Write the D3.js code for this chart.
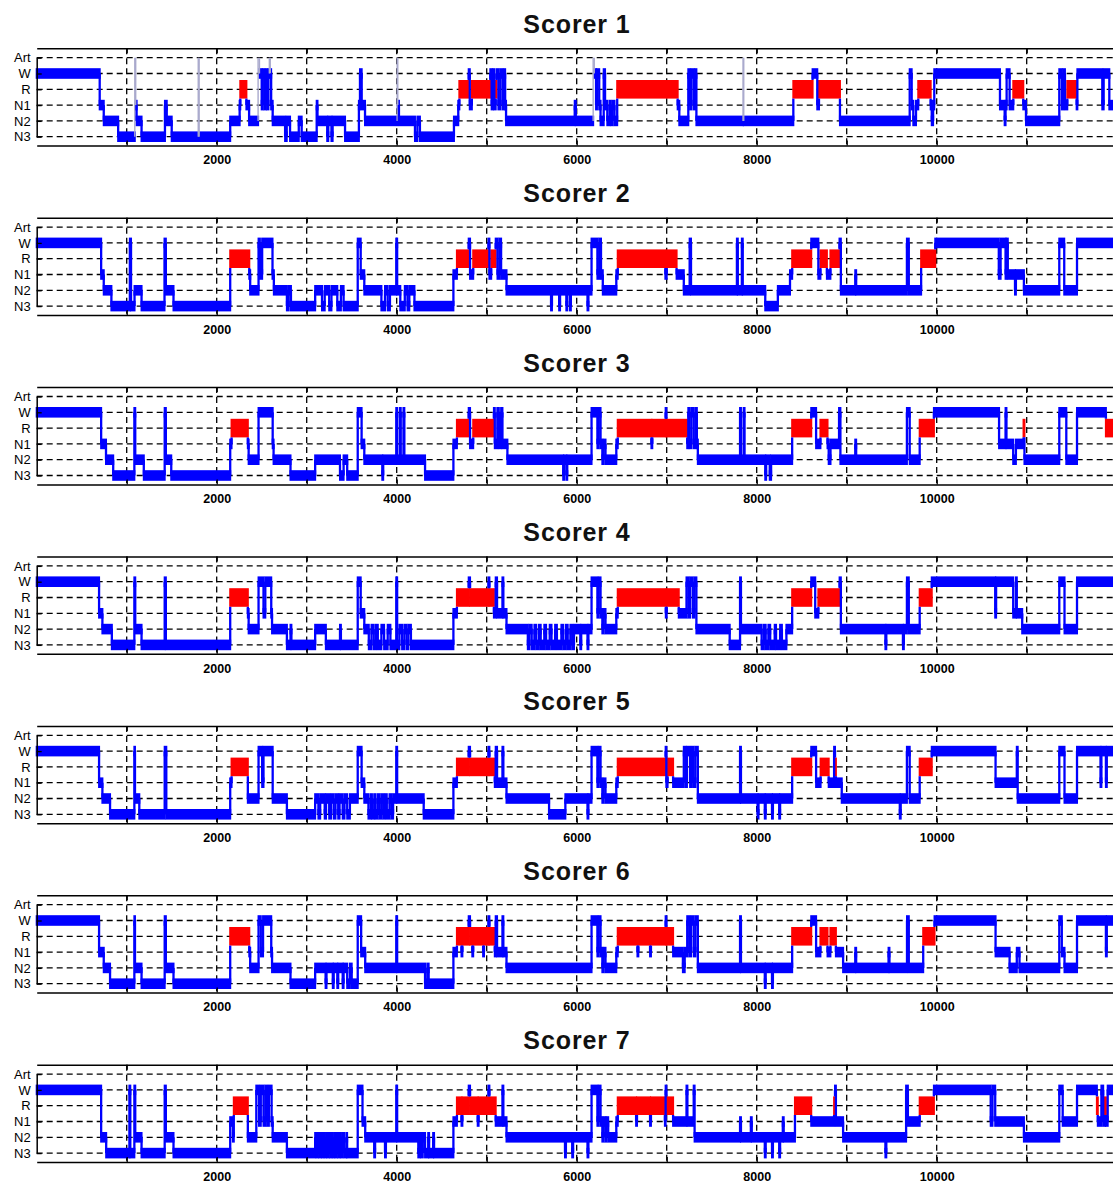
<!DOCTYPE html>
<html><head><meta charset="utf-8">
<script src="https://cdn.jsdelivr.net/npm/d3@7"></script>
<style>body{margin:0;background:#fff}svg{display:block}</style>
</head><body>
<svg id="c" width="1113" height="1183"></svg>
<script>
// ---- data ----
const stages = ["N3", "N2", "N1", "R", "W", "Art"];            // bottom -> top
const xTicks = [1000, 2000, 3000, 4000, 5000, 6000, 7000, 8000, 9000, 10000, 11000];
const xLabelled = [2000, 4000, 6000, 8000, 10000];
const xMax = 12000;
const titles = ["Scorer 1", "Scorer 2", "Scorer 3", "Scorer 4", "Scorer 5", "Scorer 6", "Scorer 7"];

// each entry: [start, stage]; a stage lasts until the next entry's start
const scorer1 = [[0,"W"],[700,"N1"],[745,"N2"],[905,"N3"],[1090,"Art"],[1100,"N1"],[1110,"N2"],[1165,"N3"],[1425,"N1"],[1445,"N2"],[1500,"N3"],[1795,"Art"],[1805,"N3"],[2150,"N2"],[2255,"N1"],[2262,"R"],[2330,"N1"],[2360,"N2"],[2460,"Art"],[2475,"W"],[2500,"N1"],[2512,"W"],[2530,"N1"],[2545,"W"],[2560,"N1"],[2575,"W"],[2585,"Art"],[2595,"W"],[2605,"N1"],[2622,"N2"],[2760,"N3"],[2778,"N2"],[2815,"N3"],[2912,"N2"],[2944,"N3"],[3111,"N1"],[3120,"N2"],[3228,"N3"],[3240,"N2"],[3275,"N3"],[3288,"N2"],[3426,"N3"],[3580,"N1"],[3592,"W"],[3611,"N1"],[3648,"N2"],[4005,"Art"],[4012,"N1"],[4025,"N2"],[4203,"N3"],[4230,"N2"],[4258,"N3"],[4636,"N2"],[4684,"N1"],[4696,"R"],[4800,"W"],[4812,"N1"],[4835,"R"],[5040,"W"],[5055,"N1"],[5070,"W"],[5085,"N1"],[5100,"R"],[5110,"W"],[5130,"N1"],[5150,"W"],[5175,"N1"],[5190,"W"],[5205,"N1"],[5215,"N2"],[5978,"N1"],[5990,"N2"],[6183,"Art"],[6195,"W"],[6215,"N1"],[6225,"W"],[6250,"N1"],[6265,"N2"],[6300,"W"],[6315,"N1"],[6340,"N2"],[6365,"N1"],[6380,"N2"],[6400,"N1"],[6420,"N2"],[6450,"R"],[7122,"N1"],[7140,"N2"],[7240,"W"],[7260,"N1"],[7275,"W"],[7300,"N1"],[7315,"W"],[7330,"N2"],[7848,"Art"],[7856,"N2"],[8407,"R"],[8621,"W"],[8673,"N1"],[8692,"R"],[8925,"N2"],[9700,"W"],[9722,"N1"],[9740,"N2"],[9770,"N1"],[9795,"R"],[9933,"N1"],[9945,"N2"],[9960,"N1"],[9973,"W"],[10703,"N1"],[10755,"N2"],[10765,"N1"],[10777,"W"],[10810,"N1"],[10851,"R"],[10962,"N1"],[10992,"N2"],[11362,"W"],[11390,"N1"],[11405,"W"],[11425,"N1"],[11451,"R"],[11555,"N1"],[11563,"W"],[11840,"N1"],[11855,"W"],[11918,"N1"]];

const scorer2 = [[0,"W"],[716,"N1"],[745,"N2"],[830,"N3"],[1035,"W"],[1048,"N3"],[1087,"N2"],[1165,"N3"],[1420,"W"],[1435,"N2"],[1520,"N3"],[2150,"R"],[2362,"N1"],[2372,"N2"],[2465,"W"],[2480,"N1"],[2505,"W"],[2620,"N1"],[2635,"N2"],[2780,"N3"],[2800,"N2"],[2825,"N3"],[3094,"N2"],[3170,"N3"],[3200,"N2"],[3250,"N3"],[3275,"N2"],[3340,"N3"],[3380,"N2"],[3410,"N3"],[3567,"W"],[3600,"N1"],[3640,"N2"],[3830,"N3"],[3870,"N2"],[3900,"N3"],[3925,"N2"],[3995,"W"],[4005,"N2"],[4040,"N3"],[4090,"N2"],[4120,"N3"],[4140,"N2"],[4197,"N3"],[4630,"N1"],[4669,"R"],[4800,"W"],[4815,"N1"],[4850,"R"],[5020,"W"],[5030,"N1"],[5050,"R"],[5100,"W"],[5120,"N1"],[5140,"W"],[5160,"N1"],[5220,"N2"],[5715,"N3"],[5725,"N2"],[5805,"N3"],[5815,"N2"],[5885,"N3"],[5895,"N2"],[5925,"N3"],[5935,"N2"],[6120,"N3"],[6130,"N2"],[6165,"W"],[6230,"N1"],[6250,"W"],[6270,"N1"],[6290,"N2"],[6440,"N1"],[6456,"R"],[6985,"N1"],[7000,"R"],[7110,"N1"],[7190,"N2"],[7255,"W"],[7270,"N2"],[7780,"W"],[7790,"N2"],[7835,"W"],[7845,"N2"],[8095,"N3"],[8235,"N2"],[8370,"N1"],[8394,"R"],[8606,"W"],[8685,"N1"],[8708,"R"],[8780,"N1"],[8819,"R"],[8920,"W"],[8935,"N2"],[9095,"N1"],[9105,"N2"],[9669,"W"],[9690,"N2"],[9827,"R"],[9984,"W"],[10690,"N1"],[10710,"W"],[10765,"N1"],[10775,"W"],[10790,"N1"],[10870,"N2"],[10880,"N1"],[10969,"N2"],[11362,"W"],[11417,"N2"],[11559,"W"]];

const scorer3 = [[0,"W"],[716,"N1"],[770,"N2"],[850,"N3"],[1085,"W"],[1095,"N2"],[1190,"N3"],[1422,"W"],[1435,"N2"],[1495,"N3"],[2150,"N1"],[2165,"R"],[2346,"N1"],[2355,"N2"],[2465,"W"],[2622,"N1"],[2632,"N2"],[2820,"N3"],[3094,"N2"],[3370,"N3"],[3410,"N2"],[3450,"N3"],[3567,"W"],[3610,"N1"],[3640,"N2"],[3840,"N3"],[3850,"N2"],[3995,"W"],[4005,"N2"],[4035,"W"],[4045,"N2"],[4075,"W"],[4085,"N2"],[4315,"N3"],[4630,"N1"],[4669,"R"],[4800,"W"],[4815,"N1"],[4850,"R"],[5080,"W"],[5090,"N1"],[5118,"W"],[5135,"N1"],[5160,"W"],[5175,"N1"],[5230,"N2"],[5850,"N3"],[5860,"N2"],[5885,"N3"],[5895,"N2"],[6165,"W"],[6230,"N1"],[6245,"W"],[6265,"N1"],[6285,"N2"],[6300,"N1"],[6320,"N2"],[6440,"N1"],[6456,"R"],[6830,"N1"],[6840,"R"],[6988,"W"],[6996,"R"],[7228,"N1"],[7240,"W"],[7255,"N1"],[7275,"W"],[7300,"N1"],[7320,"W"],[7335,"N1"],[7346,"N2"],[7815,"W"],[7825,"N2"],[7855,"W"],[7865,"N2"],[8095,"N3"],[8105,"N2"],[8145,"N3"],[8160,"N2"],[8394,"R"],[8606,"W"],[8660,"N1"],[8708,"R"],[8787,"N1"],[8800,"N2"],[8820,"N1"],[8915,"W"],[8930,"N2"],[9095,"N1"],[9105,"N2"],[9669,"W"],[9700,"N2"],[9811,"R"],[9969,"W"],[10693,"N1"],[10765,"W"],[10775,"N1"],[10850,"N2"],[10880,"N1"],[10965,"R"],[10975,"N2"],[11362,"W"],[11440,"N2"],[11559,"W"],[11880,"R"]];

const scorer4 = [[0,"W"],[693,"N1"],[730,"N2"],[835,"N3"],[1085,"W"],[1095,"N2"],[1165,"N3"],[1422,"W"],[1435,"N3"],[2150,"R"],[2346,"N1"],[2355,"N2"],[2465,"W"],[2520,"N1"],[2540,"W"],[2606,"N1"],[2615,"N2"],[2780,"N3"],[2820,"N2"],[2830,"N3"],[3094,"N2"],[3213,"N3"],[3370,"N2"],[3380,"N3"],[3567,"W"],[3600,"N1"],[3640,"N2"],[3690,"N3"],[3720,"N2"],[3745,"N3"],[3770,"N2"],[3790,"N3"],[3830,"N2"],[3860,"N3"],[3900,"N2"],[3930,"N3"],[3995,"W"],[4005,"N3"],[4030,"N2"],[4060,"N3"],[4085,"N2"],[4110,"N3"],[4130,"N2"],[4158,"N3"],[4630,"N1"],[4669,"R"],[4800,"W"],[4815,"R"],[5020,"W"],[5030,"R"],[5080,"N1"],[5100,"W"],[5115,"N1"],[5175,"W"],[5185,"N1"],[5220,"N2"],[5457,"N3"],[5475,"N2"],[5500,"N3"],[5530,"N2"],[5550,"N3"],[5580,"N2"],[5600,"N3"],[5640,"N2"],[5660,"N3"],[5700,"N2"],[5720,"N3"],[5760,"N2"],[5780,"N3"],[5830,"N2"],[5850,"N3"],[5880,"N2"],[5900,"N3"],[5930,"N2"],[5950,"N3"],[5970,"N2"],[6040,"N3"],[6050,"N2"],[6120,"N3"],[6130,"N2"],[6165,"W"],[6230,"N1"],[6245,"W"],[6265,"N1"],[6285,"N2"],[6300,"N1"],[6320,"N2"],[6440,"N1"],[6456,"R"],[6990,"N1"],[7000,"R"],[7134,"N1"],[7220,"W"],[7240,"N1"],[7260,"W"],[7290,"N1"],[7310,"W"],[7330,"N2"],[7700,"N3"],[7815,"W"],[7825,"N2"],[8055,"N3"],[8080,"N2"],[8100,"N3"],[8130,"N2"],[8150,"N3"],[8200,"N2"],[8215,"N3"],[8260,"N2"],[8280,"N3"],[8330,"N2"],[8394,"R"],[8606,"W"],[8650,"N1"],[8685,"R"],[8921,"W"],[8935,"N2"],[9430,"N3"],[9440,"N2"],[9625,"N3"],[9635,"N2"],[9669,"W"],[9690,"N2"],[9811,"R"],[9945,"W"],[10650,"N1"],[10660,"W"],[10850,"N1"],[10880,"W"],[10890,"N1"],[10950,"N2"],[11362,"W"],[11420,"N2"],[11559,"W"]];

const scorer5 = [[0,"W"],[693,"N1"],[730,"N2"],[815,"N3"],[1085,"W"],[1092,"N2"],[1140,"N3"],[1422,"W"],[1440,"N3"],[2150,"N1"],[2165,"R"],[2346,"N2"],[2465,"W"],[2505,"N1"],[2520,"W"],[2622,"N2"],[2780,"N3"],[3094,"N2"],[3130,"N3"],[3150,"N2"],[3200,"N3"],[3215,"N2"],[3250,"N3"],[3270,"N2"],[3300,"N3"],[3320,"N2"],[3350,"N3"],[3365,"N2"],[3400,"N3"],[3420,"N2"],[3450,"N3"],[3480,"N2"],[3567,"W"],[3610,"N1"],[3640,"N2"],[3686,"N3"],[3710,"N2"],[3725,"N3"],[3750,"N2"],[3765,"N3"],[3790,"N2"],[3810,"N3"],[3830,"N2"],[3850,"N3"],[3870,"N2"],[3890,"N3"],[3920,"N2"],[3940,"N3"],[3960,"N2"],[3995,"W"],[4005,"N2"],[4300,"N3"],[4630,"N1"],[4669,"R"],[4800,"W"],[4815,"R"],[5020,"W"],[5030,"R"],[5090,"N1"],[5100,"W"],[5115,"N1"],[5175,"W"],[5185,"N1"],[5220,"N2"],[5693,"N3"],[5874,"N2"],[6120,"N3"],[6130,"N2"],[6165,"W"],[6230,"N1"],[6245,"W"],[6265,"N1"],[6285,"N2"],[6300,"N1"],[6320,"N2"],[6440,"N1"],[6456,"R"],[6988,"W"],[6996,"N1"],[7010,"R"],[7071,"N1"],[7190,"W"],[7210,"N1"],[7225,"W"],[7260,"N1"],[7280,"W"],[7300,"N1"],[7320,"W"],[7346,"N2"],[7815,"W"],[7825,"N2"],[8010,"N3"],[8020,"N2"],[8090,"N3"],[8100,"N2"],[8170,"N3"],[8180,"N2"],[8250,"N3"],[8260,"N2"],[8394,"R"],[8606,"W"],[8660,"N1"],[8710,"R"],[8800,"N1"],[8860,"W"],[8870,"R"],[8880,"N1"],[8945,"N2"],[9590,"N3"],[9600,"N2"],[9669,"W"],[9700,"N2"],[9811,"R"],[9945,"W"],[10654,"N1"],[10890,"W"],[10900,"N2"],[11362,"W"],[11420,"N2"],[11559,"W"],[11820,"N1"],[11830,"W"],[11880,"N1"],[11890,"W"]];

const scorer6 = [[0,"W"],[693,"N1"],[745,"N2"],[815,"N3"],[1085,"W"],[1092,"N2"],[1165,"N3"],[1422,"W"],[1435,"N2"],[1520,"N3"],[2150,"R"],[2362,"N1"],[2372,"N2"],[2465,"W"],[2490,"N1"],[2515,"W"],[2606,"N1"],[2615,"N2"],[2820,"N3"],[3094,"N2"],[3210,"N3"],[3220,"N2"],[3290,"N3"],[3300,"N2"],[3340,"N3"],[3350,"N2"],[3400,"N3"],[3410,"N2"],[3450,"N3"],[3480,"N2"],[3500,"N3"],[3567,"W"],[3605,"N1"],[3650,"N2"],[3995,"W"],[4005,"N2"],[4315,"N3"],[4340,"N2"],[4355,"N3"],[4630,"N1"],[4669,"R"],[4720,"N1"],[4730,"R"],[4800,"W"],[4815,"R"],[4840,"N1"],[4850,"R"],[4960,"N1"],[4970,"R"],[5020,"W"],[5030,"R"],[5090,"N1"],[5100,"W"],[5115,"N1"],[5175,"W"],[5185,"N1"],[5220,"N2"],[6165,"W"],[6230,"N1"],[6245,"W"],[6265,"N1"],[6285,"N2"],[6300,"N1"],[6320,"N2"],[6440,"N1"],[6456,"R"],[6675,"N1"],[6685,"R"],[6815,"N1"],[6825,"R"],[6988,"W"],[6996,"R"],[7071,"N1"],[7180,"N2"],[7200,"N1"],[7228,"W"],[7250,"N1"],[7270,"W"],[7300,"N1"],[7320,"W"],[7346,"N2"],[7815,"W"],[7825,"N2"],[8090,"N3"],[8100,"N2"],[8170,"N3"],[8180,"N2"],[8394,"R"],[8606,"W"],[8660,"N1"],[8708,"R"],[8787,"N1"],[8819,"R"],[8880,"N1"],[8960,"N2"],[9095,"N1"],[9105,"N2"],[9465,"N1"],[9475,"N2"],[9670,"W"],[9690,"N2"],[9850,"R"],[9976,"W"],[10654,"N1"],[10810,"N2"],[10890,"N1"],[10920,"N2"],[11362,"W"],[11390,"N1"],[11420,"N2"],[11559,"W"],[11880,"N1"],[11890,"W"]];

const scorer7 = [[0,"W"],[716,"N2"],[772,"N3"],[1030,"W"],[1040,"N3"],[1085,"W"],[1095,"N2"],[1165,"N3"],[1422,"W"],[1435,"N2"],[1520,"N3"],[2150,"N1"],[2180,"N2"],[2190,"R"],[2346,"N2"],[2440,"W"],[2470,"N1"],[2490,"W"],[2520,"N1"],[2540,"W"],[2560,"N1"],[2580,"W"],[2610,"N1"],[2622,"N2"],[2780,"N3"],[3094,"N2"],[3110,"N3"],[3125,"N2"],[3140,"N3"],[3155,"N2"],[3170,"N3"],[3185,"N2"],[3200,"N3"],[3215,"N2"],[3230,"N3"],[3245,"N2"],[3260,"N3"],[3275,"N2"],[3290,"N3"],[3305,"N2"],[3320,"N3"],[3335,"N2"],[3350,"N3"],[3365,"N2"],[3380,"N3"],[3395,"N2"],[3415,"N3"],[3440,"N2"],[3449,"N3"],[3567,"W"],[3620,"N1"],[3650,"N2"],[3750,"N3"],[3760,"N2"],[3870,"N3"],[3880,"N2"],[3995,"W"],[4005,"N2"],[4240,"N3"],[4255,"N2"],[4270,"N3"],[4290,"N2"],[4315,"N3"],[4350,"N2"],[4360,"N3"],[4405,"N2"],[4415,"N3"],[4630,"N1"],[4669,"R"],[4720,"N1"],[4730,"R"],[4800,"W"],[4815,"R"],[4900,"N1"],[4910,"R"],[5020,"W"],[5030,"R"],[5100,"N1"],[5175,"W"],[5185,"N1"],[5220,"N2"],[5870,"N3"],[5880,"N2"],[5950,"N3"],[5960,"N2"],[6120,"N3"],[6130,"N2"],[6165,"W"],[6230,"N1"],[6245,"W"],[6265,"N1"],[6285,"N2"],[6300,"N1"],[6320,"N2"],[6330,"N1"],[6350,"N2"],[6440,"N1"],[6456,"R"],[6660,"N1"],[6670,"R"],[6815,"N1"],[6825,"R"],[6980,"N1"],[6988,"W"],[6996,"R"],[7071,"N1"],[7220,"W"],[7230,"N1"],[7300,"W"],[7310,"N2"],[7815,"N1"],[7825,"N2"],[7935,"N1"],[7945,"N2"],[8090,"N3"],[8100,"N2"],[8170,"N3"],[8180,"N2"],[8250,"N3"],[8260,"N2"],[8290,"N1"],[8300,"N2"],[8425,"R"],[8606,"N1"],[8860,"R"],[8870,"W"],[8880,"N1"],[8960,"N2"],[9430,"N3"],[9440,"N2"],[9660,"W"],[9680,"N1"],[9811,"R"],[9969,"W"],[10600,"N1"],[10620,"W"],[10650,"N1"],[10969,"N2"],[11362,"W"],[11400,"N1"],[11559,"W"],[11780,"R"],[11790,"N1"],[11830,"W"],[11850,"N1"],[11870,"R"],[11880,"N1"],[11900,"W"]];

const scorers = [scorer1, scorer2, scorer3, scorer4, scorer5, scorer6, scorer7];

// ---- drawing ----
const svg = d3.select("#c");
svg.append("rect").attr("width", 1113).attr("height", 1183).attr("fill", "#fff");
const FONT = "'Liberation Sans', Arial, Helvetica, sans-serif";
const panelStep = 169.4, axTop0 = 48.3, axH = 97.3;
const x = d3.scaleLinear().domain([0, xMax]).range([36.7, 1116.7]);
const BLUE = "#0000ff", RED = "#ff0000", ART = "#a9a9cc";

scorers.forEach((data, i) => {
  const top = axTop0 + i * panelStep, bottom = top + axH;
  const y = d3.scaleLinear().domain([0, 5]).range([top + 88.4, top + 9.4]);
  const g = svg.append("g");

  g.append("text").attr("x", 577).attr("y", top - 15.5)
    .attr("text-anchor", "middle").attr("font-family", FONT)
    .attr("font-weight", "bold").attr("font-size", 25).attr("letter-spacing", 0.9)
    .attr("fill", "#111").text(titles[i]);

  // grid
  g.append("g").selectAll("line").data(d3.range(stages.length)).join("line")
    .attr("x1", x(0)).attr("x2", x(xMax)).attr("y1", d => y(d)).attr("y2", d => y(d))
    .attr("stroke", "#000").attr("stroke-width", 1.3).attr("stroke-dasharray", "6,4");
  g.append("g").selectAll("line").data(xTicks).join("line")
    .attr("x1", d => x(d)).attr("x2", d => x(d)).attr("y1", top).attr("y2", bottom)
    .attr("stroke", "#000").attr("stroke-width", 1.3).attr("stroke-dasharray", "6,4");

  // segments
  const segs = data.map((d, j) => ({
    x0: d[0], x1: j < data.length - 1 ? data[j + 1][0] : xMax,
    name: d[1], s: stages.indexOf(d[1])
  }));
  const tr = g.append("g");
  tr.selectAll(".rem").data(segs.filter(s => s.name === "R")).join("rect")
    .attr("x", s => x(s.x0) - 1).attr("width", s => Math.max(0, x(s.x1) - x(s.x0)) + 2)
    .attr("y", s => y(s.s) - 9.3).attr("height", 18.6).attr("fill", RED);
  tr.selectAll(".stg").data(segs.filter(s => s.name !== "R" && s.name !== "Art")).join("rect")
    .attr("x", s => x(s.x0) - 1).attr("width", s => Math.max(0, x(s.x1) - x(s.x0)) + 2)
    .attr("y", s => y(s.s) - 5.3).attr("height", 10.6).attr("fill", BLUE);
  const conns = segs.slice(1).map((c, j) => ({ p: segs[j], c }));
  const endY = (a, b) => {
    if (a.name === "R" && b.s !== a.s) return y(a.s) + (b.s > a.s ? -9.3 : 9.3);
    return y(a.s);
  };
  tr.selectAll(".conn").data(conns).join("line")
    .attr("x1", d => x(d.c.x0)).attr("x2", d => x(d.c.x0))
    .attr("y1", d => endY(d.p, d.c)).attr("y2", d => endY(d.c, d.p))
    .attr("stroke", d => (d.p.name === "Art" || d.c.name === "Art") ? ART : BLUE)
    .attr("stroke-width", d => (d.p.name === "Art" || d.c.name === "Art") ? 1.4 : 2.3);

  // axes (ticks inward)
  const yAxis = d3.axisLeft(y).tickValues(d3.range(stages.length))
    .tickFormat(d => stages[d]).tickSizeInner(-5).tickSizeOuter(0).tickPadding(6);
  const ga = g.append("g").attr("transform", `translate(${x(0)},0)`).call(yAxis);
  ga.selectAll("text").attr("font-family", FONT).attr("font-size", 13).attr("fill", "#000");

  const xAxisB = d3.axisBottom(x).tickValues(xTicks)
    .tickFormat(d => xLabelled.includes(d) ? String(d) : "")
    .tickSizeInner(-5).tickSizeOuter(0).tickPadding(10);
  const gb = g.append("g").attr("transform", `translate(0,${bottom})`).call(xAxisB);
  gb.selectAll("text").attr("font-family", FONT).attr("font-size", 12.5)
    .attr("font-weight", "bold").attr("fill", "#000");

  const xAxisT = d3.axisTop(x).tickValues(xTicks).tickFormat(() => "")
    .tickSizeInner(-5).tickSizeOuter(0);
  g.append("g").attr("transform", `translate(0,${top})`).call(xAxisT);

  g.selectAll(".domain").attr("stroke", "#000").attr("stroke-width", 1.5);
  g.selectAll(".tick line").attr("stroke", "#000").attr("stroke-width", 1.3);
});
</script>
</body></html>
